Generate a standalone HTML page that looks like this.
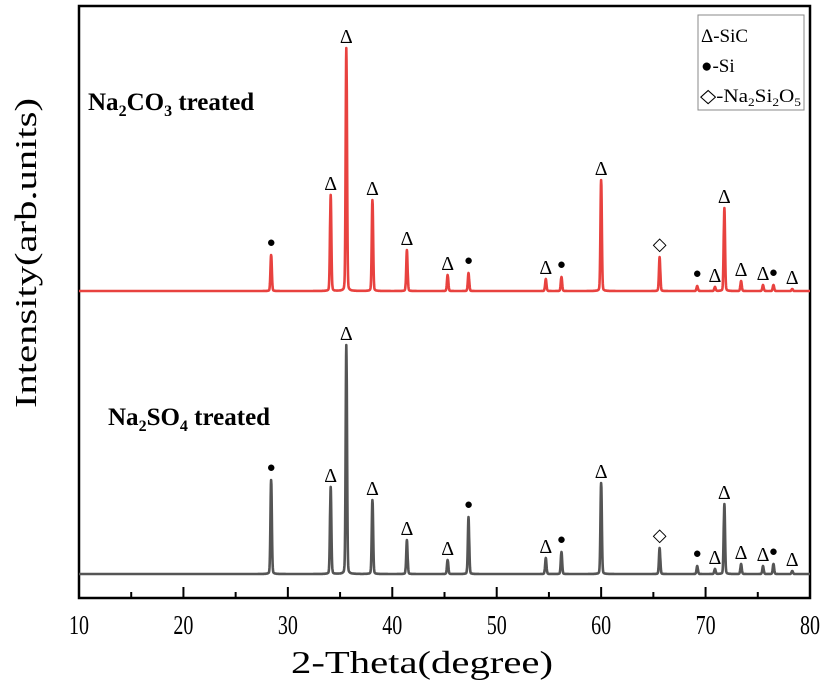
<!DOCTYPE html>
<html><head><meta charset="utf-8"><style>
body{margin:0;background:#fff;}
text{font-family:"Liberation Serif",serif;}
</style></head><body>
<svg id="chart" width="824" height="686" xmlns="http://www.w3.org/2000/svg">
<rect x="79" y="6" width="731" height="592" fill="none" stroke="#000" stroke-width="2.5"/>
<g id="ticks"></g>
<g id="series"></g>
<g id="marks"></g>
<text x="422" y="673" font-size="32" text-anchor="middle" textLength="262" lengthAdjust="spacingAndGlyphs">2-Theta(degree)</text>
<text transform="translate(36,253) rotate(-90)" font-size="31" text-anchor="middle" textLength="310" lengthAdjust="spacingAndGlyphs">Intensity(arb.units)</text>
<text x="88" y="110" font-size="25" font-weight="bold">Na<tspan font-size="16" dy="6">2</tspan><tspan dy="-6">CO</tspan><tspan font-size="16" dy="6">3</tspan><tspan dy="-6"> treated</tspan></text>
<text x="108" y="425" font-size="25" font-weight="bold">Na<tspan font-size="16" dy="6">2</tspan><tspan dy="-6">SO</tspan><tspan font-size="16" dy="6">4</tspan><tspan dy="-6"> treated</tspan></text>
<g>
<rect x="698" y="15" width="106" height="95" fill="#fff" stroke="#888" stroke-width="1"/>
<text x="701" y="42" font-size="19" font-family="Liberation Mono">Δ-SiC</text>
<text x="701" y="72" font-size="19" font-family="Liberation Mono">●-Si</text>
<text x="700" y="102" font-size="19" textLength="101" lengthAdjust="spacingAndGlyphs">◇-Na<tspan font-size="12" dy="4">2</tspan><tspan dy="-4">Si</tspan><tspan font-size="12" dy="4">2</tspan><tspan dy="-4">O</tspan><tspan font-size="12" dy="4">5</tspan></text>
</g>
</svg>
<script>
const peakPos   = [28.4,34.1,35.6,38.1,41.4,45.3,47.3,54.7,56.2,60.0,65.6,69.2,70.9,71.8,73.4,75.5,76.5,78.3];
const peakPhase = ['Si','SiC','SiC','SiC','SiC','SiC','Si','SiC','Si','SiC','Na','Si','SiC','SiC','SiC','SiC','Si','SiC'];
const redHeights  = [36,96,243,91,41,16,18,12,14,111,34,5,4,83,10,6,6,2];
const grayHeights = [94,87,229,74,34,14,57,16,22,91,26,8,5,70,10,8,10,3];
const xTicks = [10,20,30,40,50,60,70,80];
const xMin=10,xMax=80,L=79,R=810;
const xs=v=>L+(v-xMin)/(xMax-xMin)*(R-L);
const NS="http://www.w3.org/2000/svg";
const tk=document.getElementById('ticks');
for(let v=15;v<80;v+=10){const l=document.createElementNS(NS,'line');
l.setAttribute('x1',xs(v));l.setAttribute('x2',xs(v));l.setAttribute('y1',598);l.setAttribute('y2',592);l.setAttribute('stroke','#000');l.setAttribute('stroke-width',2);

tk.appendChild(l);}
xTicks.forEach(v=>{if(v>10&&v<80){const l=document.createElementNS(NS,'line');
l.setAttribute('x1',xs(v));l.setAttribute('x2',xs(v));l.setAttribute('y1',598);l.setAttribute('y2',587);l.setAttribute('stroke','#000');l.setAttribute('stroke-width',2);

tk.appendChild(l);}
const t=document.createElementNS(NS,'text');t.setAttribute('x',xs(v));t.setAttribute('y',634);t.setAttribute('font-size',27);t.setAttribute('text-anchor','middle');
t.setAttribute('textLength',20);t.setAttribute('lengthAdjust','spacingAndGlyphs');t.textContent=v;

tk.appendChild(t);});
function draw(hs,base,color,name){
 let d='';
 for(let x=xMin;x<=xMax+1e-9;x+=0.02){let y=0;
  peakPos.forEach((p,i)=>{const g=Math.exp(-((x-p)**2)/(2*0.065*0.065));const lz=1/(1+((x-p)/0.08)**2);y+=hs[i]*(0.88*g+0.12*lz);});
  d+=(d?'L':'M')+xs(x).toFixed(1)+','+(base-y).toFixed(1);}
 const p=document.createElementNS(NS,'path');p.setAttribute('d',d);p.setAttribute('fill','none');p.setAttribute('stroke',color);p.setAttribute('stroke-width',2.6);p.setAttribute('stroke-linejoin','round');
 
 
 document.getElementById('series').appendChild(p);
 const m=document.getElementById('marks');
 peakPos.forEach((pp,i)=>{const top=base-hs[i];const t=document.createElementNS(NS,'text');
  t.setAttribute('x',xs(pp));t.setAttribute('text-anchor','middle');
  const ph=peakPhase[i];
  if(ph==='SiC'){t.setAttribute('y',top-5);t.setAttribute('font-size',20);t.textContent='Δ';}
  else if(ph==='Si'){t.setAttribute('y',top-8);t.setAttribute('font-size',15);t.textContent='●';}
  else {t.setAttribute('y',top-7);t.setAttribute('font-size',18);t.textContent='◇';}
  
  
  m.appendChild(t);});
}
draw(redHeights,291,'#e8423f','na2co3-curve');
draw(grayHeights,574,'#555','na2so4-curve');
</script>
</body></html>
